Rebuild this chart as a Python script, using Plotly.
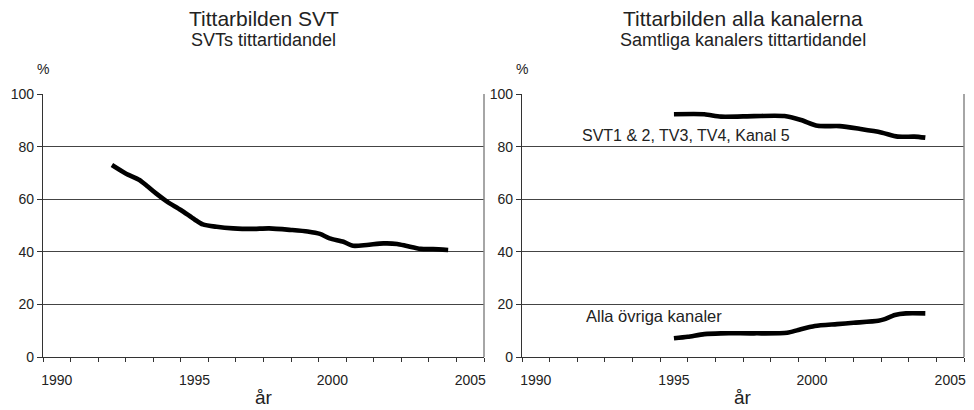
import plotly.graph_objects as go

FONT = "Liberation Sans, Arial, Helvetica, sans-serif"

# Left panel: SVT viewing share (%)
years_svt = [1992.0, 1992.5, 1993.0, 1993.3, 1993.6, 1994.0, 1994.5, 1995.0, 1995.3, 1995.8,
             1996.4, 1997.1, 1997.7, 1998.5, 1999.1, 1999.55, 1999.9, 2000.4, 2000.75,
             2001.25, 2001.85, 2002.35, 2002.7, 2003.2, 2003.65, 2004.2]
svt_share = [73.0, 69.8, 67.3, 64.8, 62.2, 59.1, 55.9, 52.3, 50.4, 49.5,
             48.9, 48.7, 48.9, 48.3, 47.7, 46.8, 45.1, 43.8, 42.3,
             42.6, 43.2, 43.0, 42.2, 41.1, 41.0, 40.7]

# Right panel: SVT1 & 2, TV3, TV4, Kanal 5 combined
years_big = [1995.0, 1996.1, 1996.7, 1997.9, 1999.0, 1999.6, 2000.2, 2001.0, 2001.75,
             2002.5, 2003.1, 2003.7, 2004.1]
big_share = [92.3, 92.3, 91.4, 91.6, 91.6, 90.1, 87.9, 87.8, 86.7,
             85.4, 83.8, 83.8, 83.4]

# Right panel: all other channels
years_other = [1995.0, 1995.5, 1996.1, 1996.7, 1997.9, 1999.1, 1999.5, 2000.1, 2000.9,
               2001.5, 2002.4, 2002.6, 2003.0, 2003.4, 2004.1]
other_share = [7.1, 7.7, 8.7, 9.0, 9.0, 9.2, 10.3, 11.8, 12.5,
               13.0, 13.8, 14.3, 16.0, 16.6, 16.6]

x_tickvals = [1990, 1995, 2000, 2005]
y_tickvals = [0, 20, 40, 60, 80, 100]

titles = ["Tittarbilden SVT", "Tittarbilden alla kanalerna"]
subtitles = ["SVTs tittartidandel", "Samtliga kanalers tittartidandel"]
label_big = "SVT1 & 2, TV3, TV4, Kanal 5"
label_other = "Alla övriga kanaler"
x_title = "år"
y_unit = "%"

line_style = dict(color="black", width=4.6, shape="spline", smoothing=0.7)

fig = go.Figure()
fig.add_trace(go.Scatter(x=years_svt, y=svt_share, mode="lines", line=line_style,
                         xaxis="x", yaxis="y", showlegend=False, hoverinfo="skip"))
fig.add_trace(go.Scatter(x=years_big, y=big_share, mode="lines", line=line_style,
                         xaxis="x2", yaxis="y2", showlegend=False, hoverinfo="skip"))
fig.add_trace(go.Scatter(x=years_other, y=other_share, mode="lines", line=line_style,
                         xaxis="x2", yaxis="y2", showlegend=False, hoverinfo="skip"))

W, H = 974, 410
dom_left = [43 / W, 484 / W]
dom_right = [522 / W, 964 / W]
dom_y = [53 / H, 316 / H]

def xaxis(domain, anchor):
    return dict(
        domain=domain, anchor=anchor, range=[1989.5, 2005.5], automargin=False,
        tickmode="array", tickvals=x_tickvals, ticks="outside", ticklen=0,
        ticklabelstandoff=10,
        showgrid=False, zeroline=False, showline=True, linecolor="#333", linewidth=1.2,
        tickfont=dict(size=14, color="#222", family=FONT),
        minor=dict(tickmode="linear", tick0=1989.5, dtick=1, ticks="outside",
                   ticklen=4, tickcolor="#333", tickwidth=1, showgrid=False),
        fixedrange=True,
    )

def yaxis(domain, anchor):
    return dict(
        domain=domain, anchor=anchor, range=[0, 100], automargin=False,
        tickmode="array", tickvals=y_tickvals, ticks="outside", ticklen=5,
        tickcolor="#333", tickwidth=1,
        showgrid=True, gridcolor="#444", gridwidth=1.1,
        zeroline=False, showline=True, linecolor="#333", linewidth=1.2,
        tickfont=dict(size=14, color="#222", family=FONT),
        fixedrange=True,
    )

fig.update_layout(
    template="none",
    width=W, height=H, autosize=False,
    margin=dict(l=0, r=0, t=0, b=0, pad=0),
    paper_bgcolor="white", plot_bgcolor="white",
    font=dict(family=FONT, color="#222"),
    xaxis=xaxis(dom_left, "y"),
    yaxis=yaxis(dom_y, "x"),
    xaxis2=xaxis(dom_right, "y2"),
    yaxis2=yaxis(dom_y, "x2"),
)

annotations = []
for i, xr in enumerate(["x domain", "x2 domain"]):
    annotations.append(dict(text=titles[i], xref=xr, x=0.5, yref="paper", y=1 - 18.5 / H,
                             xanchor="center", yanchor="middle", showarrow=False,
                             font=dict(size=21, family=FONT, color="#222")))
    annotations.append(dict(text=subtitles[i], xref=xr, x=0.5, yref="paper", y=1 - 40 / H,
                             xanchor="center", yanchor="middle", showarrow=False,
                             font=dict(size=18, family=FONT, color="#222")))
    annotations.append(dict(text=y_unit, xref=xr, x=0, yref="paper", y=1 - 69 / H,
                             xanchor="center", yanchor="middle", showarrow=False,
                             font=dict(size=14, family=FONT, color="#222")))
    annotations.append(dict(text=x_title, xref=xr, x=0.5, yref="paper", y=0,
                             xanchor="center", yanchor="bottom", showarrow=False,
                             font=dict(size=19, family=FONT, color="#222")))

annotations.append(dict(text=label_big, xref="x2", x=1991.6, yref="y2", y=84.4,
                        xanchor="left", yanchor="middle", showarrow=False,
                        font=dict(size=16, family=FONT, color="#222")))
annotations.append(dict(text=label_other, xref="x2", x=1991.75, yref="y2", y=15.6,
                        xanchor="left", yanchor="middle", showarrow=False,
                        font=dict(size=16.5, family=FONT, color="#222")))
fig.update_layout(annotations=annotations)

# right-hand frame line of each plot area
shapes = []
for xr, yr in [("x domain", "y domain"), ("x2 domain", "y2 domain")]:
    shapes.append(dict(type="line", xref=xr, yref=yr, x0=1, x1=1, y0=0, y1=1,
                       line=dict(color="#888", width=1.5)))
fig.update_layout(shapes=shapes)

fig.write_html("out.html", config={"displayModeBar": False, "staticPlot": True},
               post_script="document.body.style.margin='0';")
